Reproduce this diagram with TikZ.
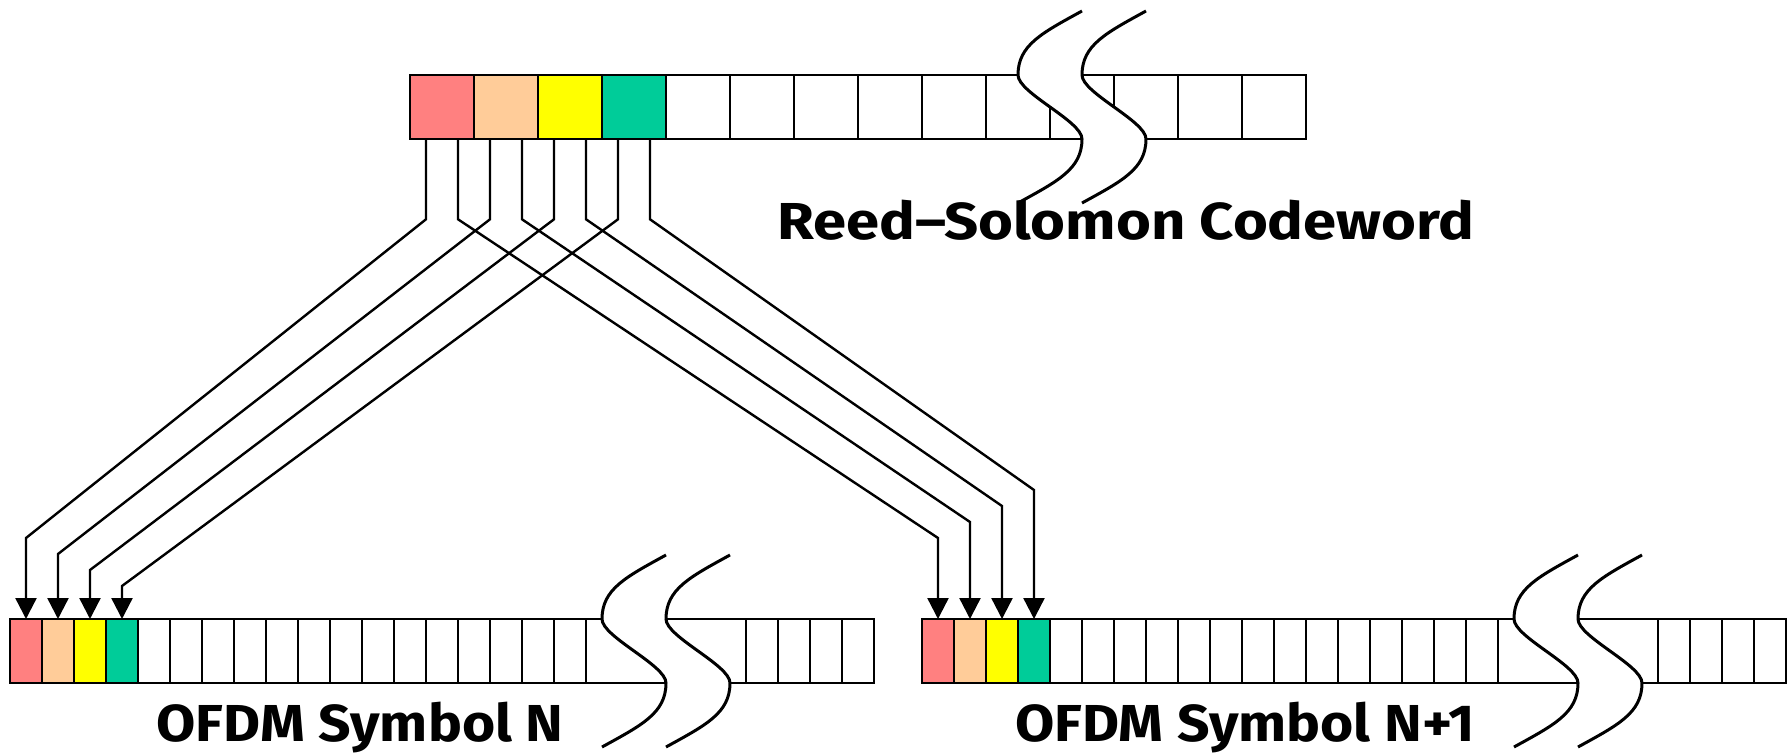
\documentclass[tikz,border=0pt]{standalone}
\usepackage{fontspec}
\setmainfont{Fira Sans}
\newfontfamily\titlefont{Fira Sans Bold}[FakeStretch=1.15, Ligatures=TeX]
\newfontfamily\symfont{Fira Sans Bold}[FakeStretch=1.095, Ligatures=TeX]
\usetikzlibrary{arrows.meta,calc}

\definecolor{rsred}{HTML}{FF8080}
\definecolor{rspeach}{HTML}{FFCC99}
\definecolor{rsyellow}{HTML}{FFFF00}
\definecolor{rsgreen}{HTML}{00CC99}

\tikzset{
  cellbig/.style={draw, line width=2.4pt, minimum width=64pt, minimum height=64pt,
    inner sep=0pt, outer sep=0pt},
  cellsmall/.style={draw, line width=2.4pt, minimum width=32pt, minimum height=64pt,
    inner sep=0pt, outer sep=0pt},
  cellgap/.style={draw, line width=2.4pt, minimum width=160pt, minimum height=64pt,
    inner sep=0pt, outer sep=0pt},
  link/.style={line width=2.4pt, line join=miter, -{Triangle[length=21pt,width=21pt]}},
  breakline/.style={line width=3pt},
  caption/.style={anchor=base, inner sep=0pt},
  % double wavy break across a bar of height 64, placed at the top-left point of the first curve
  gapmark/.pic={
    \fill[white] (64,-64) .. controls (24,-42) and (0,-30) .. (0,0)
      .. controls (0,18) and (64,46) .. (64,64)
      .. controls (64,94) and (40,106) .. (0,128) -- (64,128)
      .. controls (104,106) and (128,94) .. (128,64)
      .. controls (128,46) and (64,18) .. (64,0)
      .. controls (64,-30) and (88,-42) .. (128,-64) -- cycle;
    \draw[breakline] (64,-64) .. controls (24,-42) and (0,-30) .. (0,0)
      .. controls (0,18) and (64,46) .. (64,64)
      .. controls (64,94) and (40,106) .. (0,128);
    \draw[breakline] (128,-64) .. controls (88,-42) and (64,-30) .. (64,0)
      .. controls (64,18) and (128,46) .. (128,64)
      .. controls (128,94) and (104,106) .. (64,128);
  }
}

\begin{document}
\begin{tikzpicture}[x=1pt,y=-1pt]
\useasboundingbox (0,0) rectangle (1792,755);

% Reed-Solomon codeword: 14 cells, first four coloured
\foreach \c [count=\i] in {rsred,rspeach,rsyellow,rsgreen,white,white,white,white,white,white,white,white,white,white}
  \node[cellbig, fill=\c] (t\i) at ({410+64*(\i-0.5)},107) {};
\pic at (1018,75) {gapmark};

% OFDM symbols N (left) and N+1 (right)
\foreach \side/\x in {l/10, r/922} {
  \foreach \c [count=\i] in {rsred,rspeach,rsyellow,rsgreen,white,white,white,white,white,white,white,white,white,white,white,white,white,white}
    \node[cellsmall, fill=\c] (\side\i) at ({\x+32*(\i-0.5)},651) {};
  \node[cellgap] (\side gap) at ({\x+576+80},651) {};
  \foreach \i in {19,...,22}
    \node[cellsmall] (\side\i) at ({\x+736+32*(\i-19+0.5)},651) {};
  \pic at ({\x+592},619) {gapmark};
}

% mapping of codeword halves onto the two OFDM symbols
\coordinate (bend) at (0,219.3);
\foreach \k in {1,...,4} {
  \coordinate (sl\k) at ($(t\k.south west)!0.25!(t\k.south east)$);
  \coordinate (sr\k) at ($(t\k.south west)!0.75!(t\k.south east)$);
  \draw[link] (sl\k) -- (sl\k |- bend) -- ($(l\k.north)+(0,{-81+16*(\k-1)})$) -- (l\k.north);
  \draw[link] (sr\k) -- (sr\k |- bend) -- ($(r\k.north)+(0,{-81-16*(\k-1)})$) -- (r\k.north);
}

\node[caption, font=\titlefont\fontsize{52}{60}\selectfont] (rscap) at (1126,239) {Reed–Solomon Codeword};
\node[caption, font=\symfont\fontsize{52}{60}\selectfont] (ncap) at (360,741) {OFDM Symbol N};
\node[caption, font=\symfont\fontsize{52}{60}\selectfont] (n1cap) at (1245,741) {OFDM Symbol N+1};
\end{tikzpicture}
\end{document}
